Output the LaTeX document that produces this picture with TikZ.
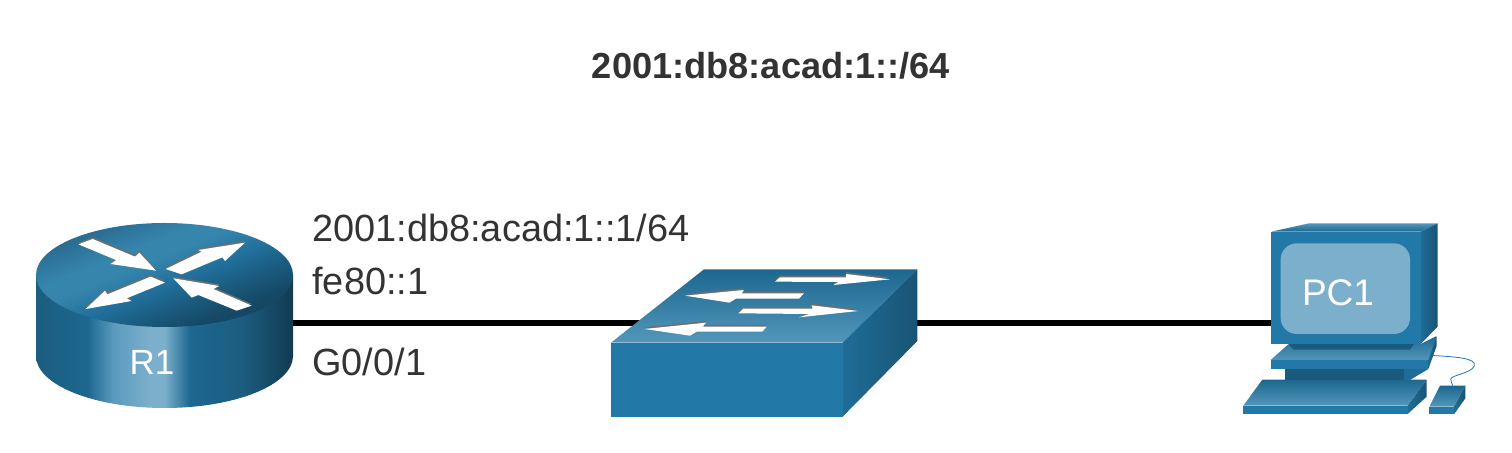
\documentclass[tikz,border=0pt]{standalone}
\usepackage{fontspec}
\setmainfont{Liberation Sans}

\definecolor{ink}{HTML}{333333}
\definecolor{ciscoblue}{HTML}{2279A8}
\definecolor{ciscoside}{HTML}{1C5D80}
\definecolor{ciscodark}{HTML}{1A5A7D}
\definecolor{screenblue}{HTML}{7BAFCB}
\definecolor{arrowedge}{HTML}{6E6E6E}
\definecolor{topband}{HTML}{3585AD}
\definecolor{topmid}{HTML}{206E99}
\definecolor{topback}{HTML}{2A6E94}

\pgfdeclarehorizontalshading{routerside}{100bp}{
	color(0bp)=(ciscoside!100); color(25bp)=(ciscoside!100);
	color(35bp)=(ciscoblue!85!black); color(40bp)=(ciscoblue!75!white);
	color(47bp)=(screenblue); color(50bp)=(screenblue);
	color(55bp)=(ciscoblue!85!black); color(65bp)=(ciscoside);
	color(75bp)=(ciscodark!65!black); color(100bp)=(ciscodark!65!black)}
\pgfdeclareverticalshading{routertop}{100bp}{
	color(0bp)=(ciscodark!80!black); color(30bp)=(ciscodark!80!black);
	color(38bp)=(ciscodark); color(46bp)=(topmid);
	color(56bp)=(topband); color(62bp)=(topband); color(72bp)=(topback); color(100bp)=(topback)}
\pgfdeclareverticalshading{faceshade}{100bp}{
	color(0bp)=(ciscoblue!78!white); color(25bp)=(ciscoblue!78!white);
	color(75bp)=(ciscoblue!85!black); color(100bp)=(ciscoblue!85!black)}
\pgfdeclarehorizontalshading{sideshade}{100bp}{
	color(0bp)=(ciscoblue!90!black); color(25bp)=(ciscoblue!90!black);
	color(75bp)=(ciscoside!90!black); color(100bp)=(ciscoside!90!black)}

% white arrow with its grey rim just above
\newcommand{\rimarrow}[1]{
	\fill[arrowedge, yshift=2.6pt] #1 -- cycle;
	\fill[white] #1 -- cycle;
}

\begin{document}
\begin{tikzpicture}[x=0.5pt, y=-0.5pt,
	link/.style={line width=3.4pt, black},
	addr/.style={anchor=base west, text=ink, font=\fontsize{18.95}{20}\selectfont, inner sep=0pt},
	devname/.style={text=white, font=\fontsize{17.5}{20}\selectfont, inner sep=0pt},
	front/.style={fill=ciscoblue},
	face/.style={shading=faceshade},
	side/.style={shading=sideshade}]
	\useasboundingbox (0,0) rectangle (1512,453);

	\coordinate (R1east) at (293,323);
	\coordinate (S1west) at (640,323);
	\coordinate (S1east) at (917,323);
	\coordinate (PC1west) at (1272,323);

	\draw[link] (R1east) -- (S1west);
	\draw[link] (S1east) -- (PC1west);

	% router
	\shade[shading=routerside] (36,275) -- (36,356) arc[start angle=180, end angle=360, x radius=128.5, y radius=-52] -- (293,275) -- cycle;
	\shade[shading=routertop, shading angle=22] (164.5,275) ellipse[x radius=128.5, y radius=52];
	\begin{scope}[shift={(20,200)}, scale=1/3]
		\rimarrow{(175,133) -- (218,117) -- (345,170) -- (358,158) -- (408,212) -- (272,192) -- (288,180)}
		\rimarrow{(437,207) -- (545,155) -- (535,150) -- (675,128) -- (615,183) -- (607,172) -- (485,223)}
		\rimarrow{(435,248) -- (392,230) -- (262,283) -- (255,272) -- (197,327) -- (335,303) -- (320,295)}
		\rimarrow{(460,235) -- (598,258) -- (580,267) -- (695,317) -- (650,332) -- (535,285) -- (515,293)}
	\end{scope}
	\node[devname] (R1) at (152,362) {R1};

	% switch
	\begin{scope}[shift={(600,260)}, scale=1/3]
		\shade[face] (33,248) -- (312,28) -- (952,28) -- (728,248) -- cycle;
		\shade[side] (728,248) -- (952,28) -- (952,243) -- (728,470) -- cycle;
		\fill[front] (33,248) rectangle (728,470);
		\rimarrow{(525,65) -- (540,52) -- (738,52) -- (738,42) -- (870,58) -- (700,75) -- (715,66)}
		\rimarrow{(255,107) -- (432,90) -- (425,100) -- (612,100) -- (597,116) -- (408,116) -- (388,128)}
		\rimarrow{(415,160) -- (430,146) -- (638,146) -- (635,136) -- (775,153) -- (597,172) -- (628,162)}
		\rimarrow{(133,207) -- (318,188) -- (308,200) -- (500,200) -- (487,215) -- (290,215) -- (270,227)}
	\end{scope}

	% PC
	\begin{scope}[shift={(1230,215)}, scale=1/3]
		\draw[ciscoblue, line width=0.4pt] (595,421) .. controls (680,425) and (740,430) .. (733,452) .. controls (725,475) and (665,480) .. (662,492) .. controls (661,500) and (668,505) .. (668,512);
		% keyboard
		\shade[face] (40,572) -- (97,494) -- (590,494) -- (533,572) -- cycle;
		\shade[side] (533,572) -- (590,494) -- (590,545) -- (533,597) -- cycle;
		\fill[front] (40,572) rectangle (533,597);
		% stem
		\fill[ciscoblue!90!black] (522,462) -- (595,462) -- (540,495) -- (522,495) -- cycle;
		\fill[ciscodark] (165,462) rectangle (522,495);
		% base
		\shade[side] (590,435) -- (620,363) -- (620,393) -- (595,462) -- cycle;
		\shade[face] (122,435) -- (175,388) -- (572,387) -- (620,363) -- (595,435) -- cycle;
		\fill[front] (122,435) rectangle (595,462);
		\fill[ciscodark] (175,387) -- (552,387) -- (540,404) -- (190,404) -- cycle;
		% monitor
		\shade[shading=faceshade, shading angle=180] (124,50) -- (237,25) -- (623,25) -- (572,50) -- cycle;
		\shade[side] (572,50) -- (623,25) -- (623,335) -- (572,387) -- cycle;
		\fill[front] (124,50) rectangle (572,387);
		\fill[screenblue, rounded corners=8pt] (152,85) rectangle (540,357);
		% mouse
		\shade[face] (598,575) -- (630,512) -- (706,512) -- (672,575) -- cycle;
		\shade[side] (672,575) -- (706,512) -- (706,550) -- (672,598) -- cycle;
		\fill[front] (598,575) rectangle (672,598);
	\end{scope}
	\node[devname, font=\fontsize{18.5}{20}\selectfont] (PC1) at (1338,293) {PC1};

	% addresses
	\node[addr, anchor=base, font=\bfseries\fontsize{18.1}{20}\selectfont] (prefix) at (771,79) {2001:db8:acad:1::/64};
	\node[addr] (gua) at (312,242) {2001:db8:acad:1::1/64};
	\node[addr] (lla) at (312,295) {fe80::1};
	\node[addr] (port) at (312,376) {G0/0/1};
\end{tikzpicture}
\end{document}
